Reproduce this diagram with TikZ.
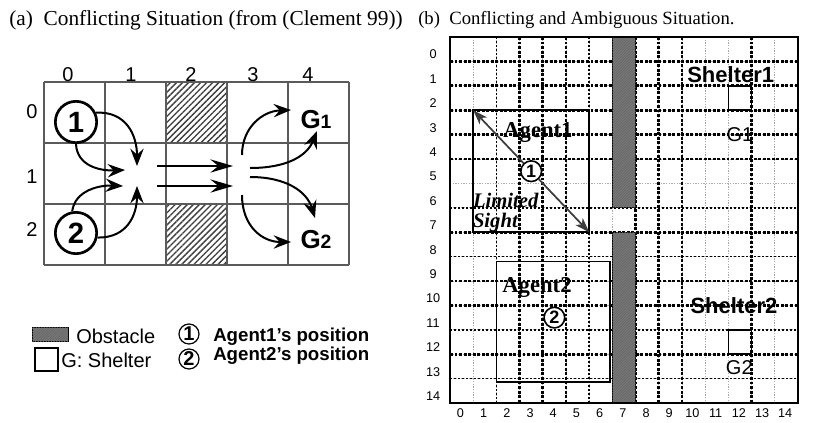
\documentclass[tikz,border=0pt]{standalone}
\usepackage{fontspec}
\setmainfont{Liberation Sans}
\newfontfamily\timesfont{Liberation Serif}
\usepackage{tikz}
\usetikzlibrary{patterns,patterns.meta,calc,positioning,arrows.meta}
\definecolor{gridline}{RGB}{90,90,90}
\definecolor{hatchgray}{RGB}{60,60,60}
\definecolor{wallgray}{RGB}{120,120,120}
\definecolor{sightgray}{RGB}{60,60,60}
\definecolor{lightdot}{RGB}{170,170,170}

\tikzset{
  title/.style={font=\timesfont\fontsize{16}{18}\selectfont, inner sep=0pt},
  axlab/.style={font=\fontsize{15}{16}\selectfont, inner sep=0pt},
  agent/.style={circle, draw, line width=2pt, minimum size=31pt, inner sep=0pt,
    font=\fontsize{22}{22}\selectfont\bfseries},
  legagent/.style={circle, draw, line width=0.9pt, minimum size=15pt, inner sep=0pt,
    font=\fontsize{15}{15}\selectfont\bfseries},
  goal/.style={font=\fontsize{19.5}{20}\selectfont\bfseries, inner sep=0pt},
  flow/.style={line width=1.5pt, -{Stealth[length=13pt, width=10pt, inset=4.5pt]}},
  pass/.style={line width=1.2pt, -{Stealth[length=17pt, width=10pt, inset=6pt]}},
  hatch/.style={pattern={Lines[angle=45, distance=3.2pt, line width=1pt]}, pattern color=hatchgray},
  wall/.style={draw, line width=1pt, fill=wallgray,
    postaction={pattern={Lines[angle=45, distance=1.4pt, line width=0.45pt]}, pattern color=black!60}},
  heavydot/.style={line width=2pt, dash pattern=on 2.2pt off 1.2pt},
  middot/.style={line width=1.2pt, dash pattern=on 1.6pt off 1.4pt},
  lightdotted/.style={lightdot, line width=0.5pt, dash pattern=on 1pt off 1pt},
  tick/.style={font=\fontsize{9.5}{10}\selectfont, inner sep=0pt},
  agentname/.style={font=\timesfont\fontsize{17}{18}\selectfont\bfseries, inner sep=0pt},
  sightlab/.style={font=\timesfont\fontsize{15.5}{16}\selectfont\bfseries\itshape, inner sep=0pt},
  shelterlab/.style={font=\fontsize{16.5}{17}\selectfont\bfseries, inner sep=0pt},
  goallab/.style={font=\fontsize{15}{16}\selectfont, inner sep=0pt},
  minagent/.style={circle, draw, fill=white, line width=1.2pt, minimum size=15.5pt, inner sep=0pt,
    font=\fontsize{13.5}{14}\selectfont\bfseries},
  sight/.style={sightgray, line width=1.3pt, -{Stealth[length=11pt, width=7.5pt, inset=3pt]}},
  viewbox/.style={line width=1.2pt, black},
}

\begin{document}
\begin{tikzpicture}[x=0.75pt, y=-0.75pt]
  % page = 821 x 422 px, y downwards
  \useasboundingbox (0,0) rectangle (821,422);

  % Titles
  \node[title, anchor=west] (tita) at (9,20) {(a)\ \ Conflicting Situation (from (Clement 99))};
  \node[title, font=\timesfont\fontsize{14}{16}\selectfont, anchor=west] (titb) at (418,20)
    {(b)\ \ Conflicting and Ambiguous Situation.};

  %% (a) small map
  % obstacles
  \fill[hatch] (166,82) rectangle (227,143);
  \fill[hatch] (166,204) rectangle (227,265);
  % cells
  \foreach \x in {44,105,166,227,288,349}{
    \draw[gridline, line width=0.8pt] (\x,82) -- (\x,265);
  }
  \foreach \y in {82,143,204,265}{
    \draw[gridline, line width=0.8pt] (44,\y) -- (349,\y);
  }
  % axis numbers
  \foreach \x/\lab in {68/0, 131/1, 191/2, 253/3, 308/4}{
    \node[axlab] (ca\lab) at (\x,75) {\lab};
  }
  \foreach \y/\lab in {112/0, 177/1, 230/2}{
    \node[axlab] (ra\lab) at (32,\y) {\lab};
  }

  % agents and shelters
  \node[agent] (ag1) at (76,122) {1};
  \node[agent] (ag2) at (76,233) {2};
  \node[goal] (g1) at (316,120) {G\fontsize{14.5}{15}\selectfont 1};
  \node[goal] (g2) at (316,240) {G\fontsize{14.5}{15}\selectfont 2};

  % meeting points
  \coordinate (m1) at (137,166);
  \coordinate (m2) at (125,170);
  \coordinate (m3) at (123,186);
  \coordinate (m4) at (137,186);
  \coordinate (p1s) at (157,166);
  \coordinate (p1e) at (233,166);
  \coordinate (p2s) at (157,186);
  \coordinate (p2e) at (233,186);
  \coordinate (q1) at (242,155);
  \coordinate (q2) at (250,168);
  \coordinate (q3) at (250,177);
  \coordinate (q4) at (242,195);
  \coordinate (g1a) at (291,110);
  \coordinate (g1b) at (317,131);
  \coordinate (g2a) at (315,218);
  \coordinate (g2b) at (291,242);

  % moves
  \draw[flow] (ag1.25) .. controls (126,111) and (137,135) .. (m1);
  \draw[flow] (ag1.south) .. controls (77,166) and (100,171) .. (m2);
  \draw[flow] (ag2.100) .. controls (75,190) and (100,185) .. (m3);
  \draw[flow] (ag2.-12) .. controls (128,238) and (137,214) .. (m4);
  \draw[pass] (p1s) -- (p1e);
  \draw[pass] (p2s) -- (p2e);
  \draw[flow] (q1) .. controls (242,128) and (262,111) .. (g1a);
  \draw[flow] (q2) .. controls (287,168) and (307,156) .. (g1b);
  \draw[flow] (q3) .. controls (287,177) and (307,192) .. (g2a);
  \draw[flow] (q4) .. controls (242,226) and (262,242) .. (g2b);

  % legend
  \draw[wall, line width=0.4pt] (32,327) rectangle (68,341);
  \node[axlab, anchor=west] (lobs) at (76,336) {Obstacle};
  \draw[line width=0.8pt] (35,348) rectangle (58,371);
  \node[axlab, anchor=west] (lshel) at (61,360) {G: Shelter};
  \node[legagent] (lag1) at (189,334) {1};
  \node[legagent] (lag2) at (189,359) {2};
  \node[axlab, font=\fontsize{14}{15}\selectfont\bfseries, anchor=west] (lpos1) at (213,337) {Agent1's position};
  \node[axlab, font=\fontsize{14}{15}\selectfont\bfseries, anchor=west] (lpos2) at (213,356) {Agent2's position};

  %% (b) large map, one unit = one cell
  \begin{scope}[shift={(337.5pt,-27.75pt)}, x=17.4pt, y=-18.3pt]
    % light grid
    \foreach \i in {1,...,14}{
      \draw[lightdotted] (\i,0) -- (\i,15);
      \draw[lightdotted] (0,\i) -- (15,\i);
    }
    % dark grid
    \foreach \i in {3,4,5,8,9,10,13}{
      \draw[heavydot] (\i,0) -- (\i,15);
    }
    \foreach \i in {2,6}{
      \draw[middot] (\i,0) -- (\i,15);
    }
    \foreach \k in {1,2,3,4,5,8,10,11,13}{
      \draw[heavydot] (0,\k) -- (15,\k);
    }
    \foreach \k in {7,9,12,14}{
      \draw[middot] (0,\k) -- (15,\k);
    }

    % walls
    \draw[wall] (7,0) rectangle (8,7);
    \draw[wall] (7,8) rectangle (8,15);
    \draw[line width=1.6pt] (0,0) rectangle (15,15);

    % numbers
    \foreach \k in {0,...,14}{
      \node[tick] (rb\k) at (-0.73,\k+0.72) {\k};
      \node[tick] (cb\k) at (\k+0.45,15.42) {\k};
    }

    % sight areas
    \draw[viewbox] (1,3) rectangle (6,8);
    \draw[viewbox] (2,9.2) rectangle (6.9,14.15);
    \node[agentname] (nm1) at (3.79,3.9) {Agent1};
    \node[sightlab, anchor=west] (lim) at (0.98,6.68) {Limited};
    \node[sightlab, anchor=west] (sig) at (0.98,7.62) {Sight};
    \node[agentname] (nm2) at (3.75,10.25) {Agent2};

    % shelters
    \node[shelterlab] (sh1) at (12.1,1.56) {Shelter1};
    \node[shelterlab] (sh2) at (12.24,11.0) {Shelter2};
    \draw[line width=1.1pt] (12,2) rectangle (13,3);
    \draw[line width=1.1pt] (12,12) rectangle (13,13);
    \node[goallab] (gb1) at (12.5,4.0) {G1};
    \node[goallab] (gb2) at (12.47,13.55) {G2};

    % agents
    \coordinate (v1nw) at (1,3);
    \coordinate (v1se) at (6,8);
    \node[minagent] (b1) at (3.5,5.5) {1};
    \draw[sight] (b1) -- (v1nw);
    \draw[sight] (b1) -- (v1se);
    \node[minagent] (b2) at (4.5,11.5) {2};
  \end{scope}
\end{tikzpicture}
\end{document}
